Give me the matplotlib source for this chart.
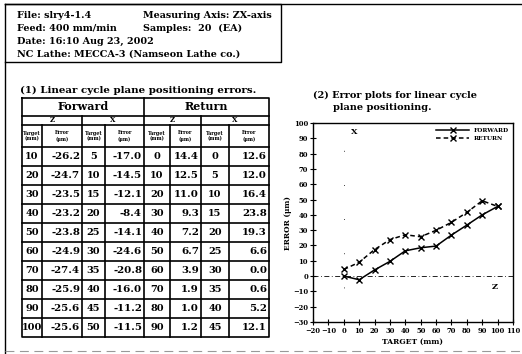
import numpy as np
import matplotlib
matplotlib.use("Agg")
import matplotlib.pyplot as plt

# header info
header_left = ["File: slry4-1.4", "Feed: 400 mm/min", "Date: 16:10 Aug 23, 2002",
               "NC Lathe: MECCA-3 (Namseon Lathe co.)"]
header_right = ["Measuring Axis: ZX-axis", "Samples:  20  (EA)"]

# table (1): linear cycle plane positioning errors
fwd_z_target = [10, 20, 30, 40, 50, 60, 70, 80, 90, 100]
fwd_z_error = [-26.2, -24.7, -23.5, -23.2, -23.8, -24.9, -27.4, -25.9, -25.6, -25.6]
fwd_x_target = [5, 10, 15, 20, 25, 30, 35, 40, 45, 50]
fwd_x_error = [-17.0, -14.5, -12.1, -8.4, -14.1, -24.6, -20.8, -16.0, -11.2, -11.5]
ret_z_target = [0, 10, 20, 30, 40, 50, 60, 70, 80, 90]
ret_z_error = [14.4, 12.5, 11.0, 9.3, 7.2, 6.7, 3.9, 1.9, 1.0, 1.2]
ret_x_target = [0, 5, 10, 15, 20, 25, 30, 35, 40, 45]
ret_x_error = [12.6, 12.0, 16.4, 23.8, 19.3, 6.6, 0.0, 0.6, 5.2, 12.1]

# plot (2): error plots
plot_target = [0, 10, 20, 30, 40, 50, 60, 70, 80, 90, 100]
plot_forward = [0.0, -2.4, 4.0, 9.6, 16.5, 18.5, 19.6, 26.8, 33.3, 40.0, 45.5]
plot_return = [4.3, 9.0, 17.3, 23.8, 27.0, 25.7, 29.9, 35.1, 41.6, 49.2, 45.5]

W, H = 522, 354
FONT = "DejaVu Serif"

fig = plt.figure(figsize=(W / 100, H / 100), dpi=100)
fig.patch.set_facecolor("white")

# full-figure canvas in pixel coords
cv = fig.add_axes([0, 0, 1, 1])
cv.set_xlim(0, W)
cv.set_ylim(H, 0)
cv.axis("off")

def txt(x, y, s, size=6.5, ha="left", **kw):
    cv.text(x, y, s, fontsize=size, ha=ha, va="center", family=FONT,
            fontweight="bold", **kw)

# outer frame
cv.plot([5, W], [4, 4], color="black", lw=1.0)
cv.plot([5, 5], [4, H], color="black", lw=1.0)
cv.plot([5, W], [351, 351], color="0.6", lw=0.8, ls=(0, (8, 5)))

# header box
cv.plot([5, 281, 281, 5], [4, 4, 62, 62], color="black", lw=1.0)
for i, s in enumerate(header_left):
    txt(17, 15 + i * 13, s, size=6.9)
for i, s in enumerate(header_right):
    txt(143, 15 + i * 13, s, size=6.9)

# table
txt(20, 90, "(1) Linear cycle plane positioning errors.", size=7.4)
cols = [22, 42, 82, 105, 144, 170, 201, 229, 269]
y_top, y_grp, y_ax, y_hdr = 98, 116, 125, 147
row_h = 19
n = len(fwd_z_target)
y_bot = y_hdr + n * row_h
lw_t = 1.2

cv.plot([cols[0], cols[-1], cols[-1], cols[0], cols[0]],
        [y_top, y_top, y_bot, y_bot, y_top], color="black", lw=lw_t)
for y in [y_grp, y_ax, y_hdr] + [y_hdr + i * row_h for i in range(1, n)]:
    cv.plot([cols[0], cols[-1]], [y, y], color="black", lw=lw_t)
cv.plot([cols[4], cols[4]], [y_top, y_bot], color="black", lw=lw_t)
for c in [cols[2], cols[6]]:
    cv.plot([c, c], [y_grp, y_bot], color="black", lw=lw_t)
for c in [cols[1], cols[3], cols[5], cols[7]]:
    cv.plot([c, c], [y_ax, y_bot], color="black", lw=lw_t)

txt((cols[0] + cols[4]) / 2, (y_top + y_grp) / 2, "Forward", size=8, ha="center")
txt((cols[4] + cols[8]) / 2, (y_top + y_grp) / 2, "Return", size=8, ha="center")
for a, b, s in [(0, 2, "Z"), (2, 4, "X"), (4, 6, "Z"), (6, 8, "X")]:
    txt((cols[a] + cols[b]) / 2, (y_grp + y_ax) / 2, s, size=5, ha="center")
for k in range(8):
    lab = "Target\n(mm)" if k % 2 == 0 else "Error\n(\u03bcm)"
    cv.text((cols[k] + cols[k + 1]) / 2, (y_ax + y_hdr) / 2, lab, fontsize=3.4,
            ha="center", va="center", family=FONT, fontweight="bold",
            linespacing=1.2)

table_cols = [fwd_z_target, fwd_z_error, fwd_x_target, fwd_x_error,
              ret_z_target, ret_z_error, ret_x_target, ret_x_error]
for k, vals in enumerate(table_cols):
    for i, v in enumerate(vals):
        yc = y_hdr + (i + 0.5) * row_h
        if k % 2 == 0:
            txt((cols[k] + cols[k + 1]) / 2, yc, f"{v}", size=7.0, ha="center")
        else:
            txt(cols[k + 1] - 2, yc, f"{v:.1f}", size=7.4, ha="right")

# chart title
txt(313, 95, "(2) Error plots for linear cycle", size=7.0)
txt(333, 108, "plane positioning.", size=7.0)

# chart axes
ax = fig.add_axes([313 / W, 1 - 322 / H, 200 / W, 199 / H])
ax.set_xlim(-20, 110)
ax.set_ylim(-30, 100)
ax.axhline(0, color="black", lw=0.6, ls=(0, (6, 3, 1, 3)))
ax.axvline(0, color="black", lw=0.6, ls=(0, (1, 40)))
ax.plot(plot_target, plot_forward, color="black", lw=1.1, marker="x",
        ms=4, mew=1.0, label="FORWARD")
ax.plot(plot_target, plot_return, color="black", lw=1.1, ls=(0, (3, 2)),
        marker="x", ms=4, mew=1.0, label="RETURN")
ax.text(7, 94, "X", fontsize=6, family=FONT, fontweight="bold",
        ha="center", va="center")
ax.text(98, -7, "Z", fontsize=6, family=FONT, fontweight="bold",
        ha="center", va="center")
ax.set_xticks(np.arange(-20, 111, 10))
ax.set_yticks(np.arange(-30, 101, 10))
ax.tick_params(direction="inout", length=4, width=0.8, labelsize=4.9, pad=1.5)
for t in ax.get_xticklabels() + ax.get_yticklabels():
    t.set_family(FONT)
    t.set_fontweight("bold")
for s in ax.spines.values():
    s.set_linewidth(1.0)
ax.set_xlabel("TARGET (mm)", fontsize=5.4, family=FONT, fontweight="bold", labelpad=2)
ax.set_ylabel("ERROR (\u03bcm)", fontsize=5.4, family=FONT, fontweight="bold", labelpad=1)
leg = ax.legend(loc="upper right", frameon=False, handlelength=5.5,
                prop={"family": FONT, "weight": "bold", "size": 4.2},
                borderaxespad=0.4, labelspacing=0.6, handletextpad=0.8)

fig.savefig("out.png", dpi=100)
